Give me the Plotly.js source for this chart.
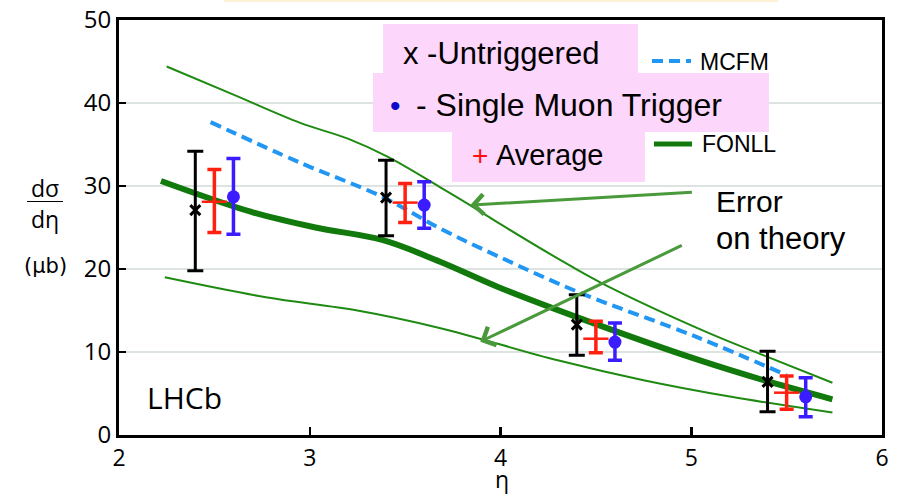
<!DOCTYPE html>
<html><head><meta charset="utf-8">
<script src="https://cdn.plot.ly/plotly-3.0.1.min.js"></script>
<style>html,body{margin:0;padding:0;background:#fff}#c{width:902px;height:494px}</style>
</head><body><div id="c"></div>
<script>
// ---- data ----
const etaUntrig = [2.4, 3.4, 4.4, 5.4];
const untrig    = [27.1, 28.6, 13.3, 6.4];
const untrigHi  = [34.2, 33.1, 16.9, 10.1];
const untrigLo  = [19.8, 24.0, 9.6, 2.8];

const etaAvg = [2.5, 3.5, 4.5, 5.5];
const avg    = [28.1, 28.0, 11.6, 5.1];
const avgHi  = [32.0, 30.3, 13.7, 7.1];
const avgLo  = [24.4, 25.6, 9.9, 3.1];

const etaSmt = [2.6, 3.6, 4.6, 5.6];
const smt    = [28.7, 27.7, 11.2, 4.6];
const smtHi  = [33.3, 30.5, 13.5, 6.9];
const smtLo  = [24.2, 24.9, 9.0, 2.2];

const etaFonll = [2.22, 2.69, 3.03, 3.38, 3.68, 3.99, 4.40, 5.03, 5.38, 5.74];
const fonll    = [30.6, 26.9, 25.0, 23.5, 20.9, 17.8, 14.2, 9.1, 6.6, 4.3];

const etaUpper = [2.25, 2.60, 2.95, 3.20, 3.41, 3.68, 3.84, 4.00, 4.29, 4.53, 5.09, 5.38, 5.74];
const upper    = [44.4, 41.0, 37.6, 35.7, 33.5, 29.9, 27.7, 25.4, 21.4, 18.3, 12.3, 9.6, 6.3];

const etaLower = [2.24, 2.77, 3.25, 3.68, 4.30, 4.75, 5.21, 5.74];
const lower    = [19.0, 16.6, 15.0, 12.9, 9.0, 6.6, 4.6, 2.7];

const etaMcfm = [2.48, 2.95, 3.38, 3.69, 3.99, 4.42, 5.03, 5.50];
const mcfm    = [37.7, 32.8, 28.7, 24.8, 21.5, 17.1, 11.8, 7.2];

const xTicks = [2, 3, 4, 5, 6];
const yTicks = [0, 10, 20, 30, 40, 50];

// ---- helpers ----
const sub = (a, b) => a.map((v, i) => v - b[i]);
const L = 119, R = 882, T = 20, B = 435;
const pxX = x => (x - L) / (R - L);
const pxY = y => (B - y) / (B - T);

const thin = {color: '#1f8a12', width: 2};
const traces = [
  {x: etaUpper, y: upper, mode: 'lines', line: Object.assign({shape: 'spline', smoothing: 1}, thin)},
  {x: etaLower, y: lower, mode: 'lines', line: Object.assign({shape: 'spline', smoothing: 1}, thin)},
  {x: etaMcfm, y: mcfm, mode: 'lines', line: {color: '#2196f3', width: 4, dash: '11px,6px', shape: 'spline'}},
  {x: etaFonll, y: fonll, mode: 'lines', line: {color: '#127a0c', width: 6, shape: 'spline'}},
  {x: etaUntrig, y: untrig, mode: 'markers',
   marker: {symbol: 'x-thin', size: 10, line: {color: '#000', width: 3}, color: '#000'},
   error_y: {type: 'data', symmetric: false, array: sub(untrigHi, untrig), arrayminus: sub(untrig, untrigLo),
             color: '#000', thickness: 3, width: 8}},
  {x: etaAvg, y: avg, mode: 'markers',
   marker: {symbol: 'line-ew', size: 18, line: {color: '#ff2010', width: 2.5}, color: '#ff2010'},
   error_y: {type: 'data', symmetric: false, array: sub(avgHi, avg), arrayminus: sub(avg, avgLo),
             color: '#ff2010', thickness: 3.5, width: 7}},
  {x: etaSmt, y: smt, mode: 'markers',
   marker: {symbol: 'circle', size: 13, color: '#3b1cff'},
   error_y: {type: 'data', symmetric: false, array: sub(smtHi, smt), arrayminus: sub(smt, smtLo),
             color: '#3b1cff', thickness: 3.5, width: 7}}
];

const pink = '#fdd6fc';
const box = (x0, y0, x1, y1) => ({type: 'rect', xref: 'paper', yref: 'paper', layer: 'above',
  x0: pxX(x0), x1: pxX(x1), y0: pxY(y1), y1: pxY(y0), fillcolor: pink, line: {width: 0}});
const pline = (x0, y0, x1, y1, line) => ({type: 'line', xref: 'paper', yref: 'paper', layer: 'above',
  x0: pxX(x0), x1: pxX(x1), y0: pxY(y0), y1: pxY(y1), line: line});

const shapes = [
  {type: 'rect', xref: 'paper', yref: 'paper', x0: pxX(224), x1: pxX(778), y0: pxY(0), y1: pxY(2),
   fillcolor: '#fdf1d8', line: {width: 0}},
  box(383, 24, 638, 73),
  box(373, 73, 769, 132),
  box(452, 132, 645, 182),
  pline(652, 61, 691, 61, {color: '#2196f3', width: 4, dash: '11px,6px'}),
  pline(654, 144, 692, 144, {color: '#127a0c', width: 5}),
  pline(27, 201.5, 63, 201.5, {color: '#000', width: 1.2})
];

const sans = 'Liberation Sans, Arial, sans-serif';
const open = 'Open Sans, sans-serif';
const txt = (t, x, y, size, opts) => Object.assign({text: t, xref: 'paper', yref: 'paper',
  x: pxX(x), y: pxY(y), showarrow: false, xanchor: 'left', yanchor: 'middle',
  font: {family: sans, size: size, color: '#000'}}, opts || {});

const annotations = [
  txt('x -Untriggered', 401, 54, 31),
  txt('•', 388, 105, 30, {font: {family: sans, size: 30, color: '#0a0ac8'}}),
  txt('- Single Muon Trigger', 414, 105, 32),
  txt('+', 470, 155, 28, {font: {family: sans, size: 28, color: '#ff1010'}}),
  txt('Average', 494, 155, 29),
  txt('MCFM', 698, 62, 23),
  txt('FONLL', 700, 144, 23),
  txt('Error', 714, 201, 30),
  txt('on theory', 714, 238, 31),
  txt('LHCb', 145, 397, 30, {font: {family: open, size: 30, color: '#000'}}),
  txt('dσ', 45, 188, 23, {xanchor: 'center', font: {family: open, size: 23, color: '#000'}}),
  txt('dη', 45, 219, 23, {xanchor: 'center', font: {family: open, size: 23, color: '#000'}}),
  txt('(μb)', 45, 266, 21, {xanchor: 'center', font: {family: 'DejaVu Sans, sans-serif', size: 21, color: '#000'}}),
  txt('η', 502, 479, 23, {xanchor: 'center', borderpad: 0, font: {family: open, size: 23, color: '#000'}}),
  {x: 3.842, y: 27.7, xref: 'x', yref: 'y', ax: 223, ay: -13, showarrow: true, text: '',
   arrowhead: 4, arrowsize: 1.3, arrowwidth: 3, arrowcolor: '#4a9a3c'},
  {x: 3.894, y: 11.24, xref: 'x', yref: 'y', ax: 203, ay: -97, showarrow: true, text: '',
   arrowhead: 4, arrowsize: 1.3, arrowwidth: 3, arrowcolor: '#4a9a3c'}
];

const layout = {
  width: 902, height: 494,
  margin: {l: L, r: 902 - R, t: T, b: 494 - B, pad: 0},
  paper_bgcolor: '#fff', plot_bgcolor: '#fff',
  showlegend: false,
  xaxis: {range: [2, 6], tickvals: xTicks, ticktext: xTicks.map(String), ticks: 'inside', ticklen: 8,
          tickwidth: 2.5, tickcolor: '#000', showline: true, linecolor: '#000', linewidth: 3, mirror: true,
          showgrid: false, zeroline: false, tickfont: {family: open, size: 23, color: '#000'}},
  yaxis: {range: [0, 50], tickvals: yTicks, ticktext: yTicks.map(String), ticks: 'inside', ticklen: 7,
          tickwidth: 2.5, tickcolor: '#000', showline: true, linecolor: '#000', linewidth: 3, mirror: true,
          showgrid: true, gridcolor: '#dde3e0', gridwidth: 2, zeroline: false,
          tickfont: {family: open, size: 24, color: '#000'}},
  shapes: shapes,
  annotations: annotations
};

Plotly.newPlot('c', traces, layout, {staticPlot: true});
</script>
</body></html>
